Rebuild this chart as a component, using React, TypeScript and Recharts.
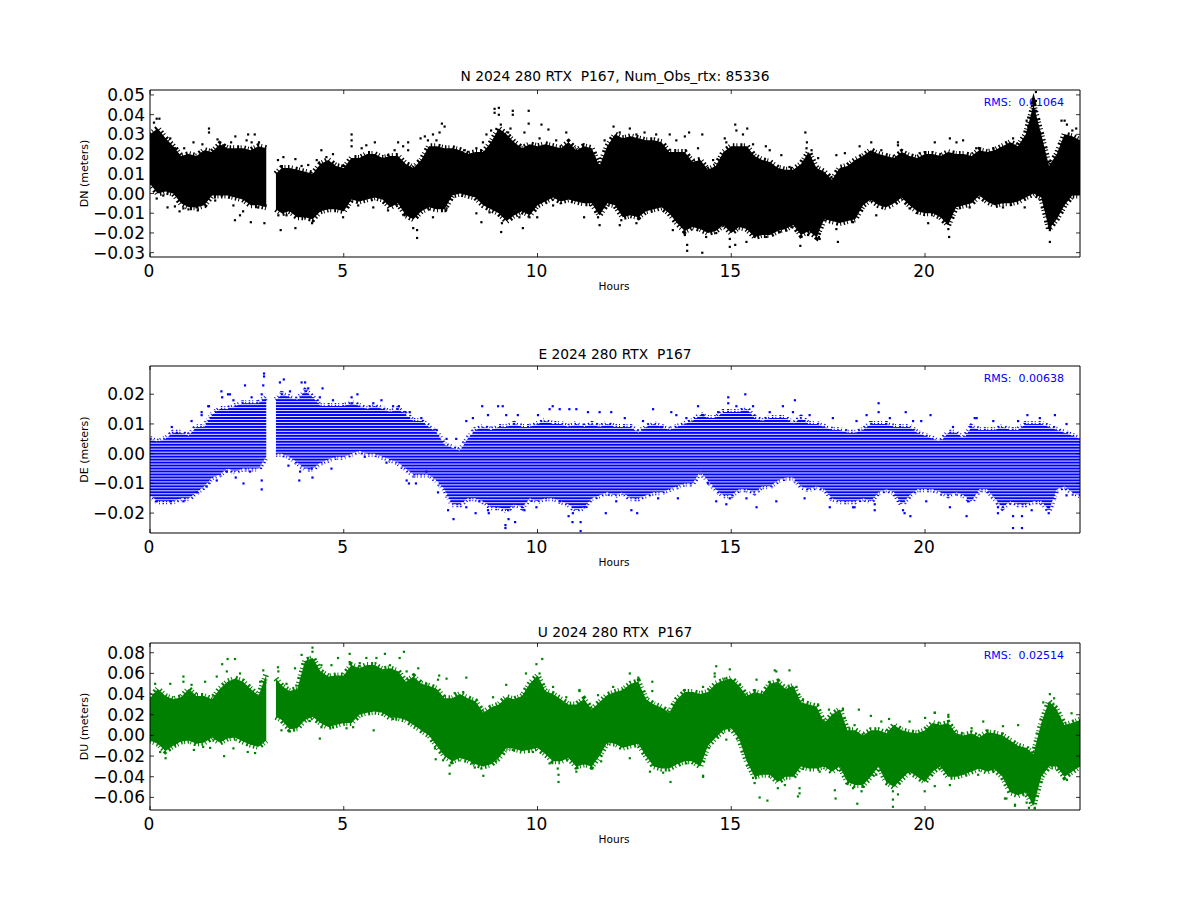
import React from 'react';
import { ComposedChart, Area, Scatter, XAxis, YAxis, ReferenceLine } from 'recharts';

const hours = [
  0, 0.2, 0.4, 0.6, 0.8, 1, 1.2, 1.4, 1.6, 1.8, 2, 2.2, 2.4, 2.6, 2.8, 3,
  3.1,
  3.25, 3.4, 3.6, 3.8, 4, 4.2, 4.4, 4.6, 4.8, 5,
  5.2, 5.4, 5.6, 5.8, 6, 6.2, 6.4, 6.6, 6.8, 7,
  7.2, 7.4, 7.6, 7.8, 8, 8.2, 8.4, 8.6, 8.8, 9,
  9.2, 9.4, 9.6, 9.8, 10, 10.2, 10.4, 10.6, 10.8, 11,
  11.2, 11.4, 11.6, 11.8, 12, 12.2, 12.4, 12.6, 12.8, 13,
  13.2, 13.4, 13.6, 13.8, 14, 14.2, 14.4, 14.6, 14.8, 15,
  15.2, 15.4, 15.6, 15.8, 16, 16.2, 16.4, 16.6, 16.8, 17,
  17.2, 17.4, 17.6, 17.8, 18, 18.2, 18.4, 18.6, 18.8, 19,
  19.2, 19.4, 19.6, 19.8, 20, 20.2, 20.4, 20.6, 20.8, 21,
  21.2, 21.4, 21.6, 21.8, 22, 22.2, 22.4, 22.6, 22.8, 23,
  23.2, 23.4, 23.6, 23.8, 24,
];

const nLow = [
  0.005, 0.0, 0.001, 0.0, -0.005, -0.007, -0.007, -0.006, -0.001, -0.001, -0.001, -0.002, -0.003, -0.006, -0.006, -0.007,
  null,
  -0.008, -0.01, -0.009, -0.012, -0.012, -0.013, -0.009, -0.008, -0.008, -0.009,
  -0.003, -0.004, -0.003, -0.002, -0.003, -0.007, -0.005, -0.011, -0.013, -0.009,
  -0.007, -0.008, -0.008, -0.001, 0.0, -0.001, -0.002, -0.006, -0.008, -0.01,
  -0.014, -0.011, -0.009, -0.011, -0.006, -0.004, -0.002, -0.004, -0.003, -0.004,
  -0.005, -0.005, -0.011, -0.005, -0.006, -0.012, -0.011, -0.012, -0.009, -0.008,
  -0.007, -0.01, -0.015, -0.019, -0.017, -0.018, -0.02, -0.019, -0.016, -0.02,
  -0.017, -0.018, -0.022, -0.021, -0.021, -0.019, -0.018, -0.016, -0.021, -0.019,
  -0.022, -0.013, -0.014, -0.015, -0.014, -0.013, -0.006, -0.003, -0.006, -0.007,
  -0.005, -0.002, -0.006, -0.009, -0.01, -0.01, -0.012, -0.016, -0.007, -0.006,
  -0.005, -0.001, -0.004, -0.006, -0.005, -0.005, -0.004, -0.002, 0.0, -0.002,
  -0.018, -0.013, -0.006, -0.001, -0.001,
];
const nHigh = [
  0.03, 0.033, 0.028, 0.024, 0.019, 0.02, 0.019, 0.022, 0.021, 0.025, 0.023, 0.023, 0.023, 0.022, 0.024, 0.023,
  null,
  0.01, 0.013, 0.013, 0.012, 0.011, 0.01, 0.015, 0.017, 0.014, 0.013,
  0.018, 0.018, 0.02, 0.02, 0.018, 0.019, 0.019, 0.015, 0.013, 0.017,
  0.024, 0.024, 0.023, 0.023, 0.022, 0.02, 0.021, 0.021, 0.026, 0.033,
  0.03, 0.026, 0.023, 0.025, 0.024, 0.025, 0.024, 0.023, 0.026, 0.022,
  0.024, 0.023, 0.014, 0.024, 0.03, 0.028, 0.029, 0.028, 0.027, 0.027,
  0.026, 0.021, 0.021, 0.021, 0.016, 0.017, 0.012, 0.014, 0.021, 0.024,
  0.024, 0.024, 0.019, 0.017, 0.016, 0.013, 0.012, 0.012, 0.015, 0.021,
  0.013, 0.011, 0.007, 0.013, 0.014, 0.017, 0.019, 0.022, 0.02, 0.019,
  0.018, 0.021, 0.019, 0.018, 0.02, 0.02, 0.019, 0.021, 0.02, 0.02,
  0.019, 0.022, 0.021, 0.022, 0.024, 0.026, 0.024, 0.03, 0.045, 0.03,
  0.014, 0.02, 0.03, 0.029, 0.027,
];
const nOutH = [0.17, 0.24, 0.1, 1.52, 1.52, 2.2, 2.53, 2.7, 2.62, 0.45, 0.76, 0.99, 1.23, 2.19, 2.32, 2.6, 2.95, 3.37, 3.75, 4.18, 3.3, 3.44, 3.75, 4.42, 4.72, 5.2, 5.2, 5.2, 5.8, 6.4, 6.66, 6.66, 6.89, 6.89, 6.79, 6.98, 7.09, 7.3, 7.53, 7.6, 7.47, 8.89, 9, 8.89, 9, 9.36, 9.36, 9.77, 9.77, 10.1, 10.28, 9.06, 9.62, 9.99, 8.55, 9.08, 8.68, 8.8, 9.05, 9.3, 10.74, 11.96, 12.38, 12.76, 13.41, 13.91, 14.25, 15.1, 15.41, 15.13, 14.83, 15.3, 16.91, 16.95, 16.94, 17.07, 15.89, 13.86, 13.86, 14.25, 14.96, 14.96, 15.1, 15.39, 16.78, 17.75, 17.26, 20.62, 23.22, 23.22, 22.62, 22.79, 22.86, 22.86, 22.86, 23.52, 23.6, 23.8, 20.98, 20.64, 19.3, 18.61, 11.2, 11.6, 12.12, 12.55, 20.08];
const nOutV = [0.038, 0.038, 0.036, 0.033, 0.031, 0.029, 0.03, 0.03, 0.026, -0.007, -0.009, -0.008, -0.0085, -0.0135, -0.011, -0.0145, -0.015, -0.0185, -0.0175, -0.015, 0.017, 0.0185, 0.0175, 0.022, 0.02, 0.03, 0.027, 0.024, 0.026, 0.026, 0.026, 0.022, -0.0225, -0.0185, -0.0175, 0.028, 0.029, 0.03, 0.0355, 0.034, 0.031, 0.043, 0.0435, 0.041, 0.04, 0.042, 0.04, 0.042, 0.0355, 0.035, 0.0325, -0.0195, -0.0175, -0.012, -0.0145, -0.015, 0.03, 0.032, 0.035, 0.033, 0.031, 0.034, 0.033, 0.031, 0.03, 0.031, 0.03, 0.035, 0.033, 0.032, 0.028, 0.03, 0.031, 0.026, 0.023, 0.022, 0.024, -0.029, -0.026, -0.03, -0.023, -0.027, -0.026, -0.0245, -0.0265, -0.0245, -0.022, -0.022, -0.0245, -0.0185, 0.037, 0.04, 0.0515, 0.047, 0.042, 0.037, 0.037, 0.032, 0.027, 0.028, 0.026, 0.026, -0.012, -0.016, -0.016, -0.015, -0.015];
const nEdgeH = [0.52, 0.64, 0.88, 1.12, 1.35, 1.74, 1.89, 2.09, 2.49, 2.81, 3.91, 4.08, 4.3, 4.55, 4.98, 5.46, 5.58, 6.14, 6.31, 6.53, 7.17, 7.39, 7.9, 8.12, 8.42, 8.59, 9.24, 9.66, 10.05, 10.48,
  0.17, 0.34, 0.64, 0.86, 1.2, 1.68, 1.85, 2.15, 2.4, 2.79, 3.31, 3.52, 3.99, 4.55, 4.98, 5.37, 5.76, 6.14, 6.57, 7.3, 7.65, 8.42, 8.76, 9.53, 9.79, 10.4,
  11.73, 12.12, 12.55, 13.06, 13.58, 13.8, 14.14, 14.53, 14.87, 15.56, 15.99, 16.29, 16.5, 17.24, 17.71, 17.93, 18.31, 18.87, 19.3, 19.86, 20.25, 20.81, 21.32, 21.76, 22.27, 22.66, 22.96, 23.66, 23.9,
  11.56, 12.16, 12.59, 13.49, 13.8, 14.35, 14.61, 15.6, 15.9, 16.25, 16.55, 16.98, 17.28, 17.71, 18.14, 18.74, 19.6, 20.6, 21.15, 22.01, 22.57, 23.22, 23.48];
const nEdgeV = [0.028, 0.023, 0.023, 0.026, 0.025, 0.0275, 0.0245, 0.026, 0.027, 0.026, 0.014, 0.0145, 0.017, 0.0185, 0.014, 0.023, 0.0245, 0.0195, 0.022, 0.024, 0.027, 0.027, 0.022, 0.022, 0.023, 0.026, 0.031, 0.031, 0.028, 0.027,
  -0.0025, -0.001, -0.0065, -0.0075, -0.007, -0.0035, -0.001, -0.006, -0.009, -0.007, -0.011, -0.011, -0.012, -0.0075, -0.012, -0.006, -0.007, -0.0085, -0.011, -0.012, -0.0075, -0.01, -0.0095, -0.012, -0.012, -0.006,
  0.027, 0.031, 0.03, 0.03, 0.027, 0.029, 0.023, 0.017, 0.026, 0.025, 0.022, 0.0195, 0.0135, 0.018, 0.0195, 0.0205, 0.024, 0.022, 0.0245, 0.0205, 0.026, 0.026, 0.023, 0.023, 0.028, 0.034, 0.031, 0.035, 0.033,
  -0.012, -0.0135, -0.0125, -0.0185, -0.021, -0.022, -0.02, -0.022, -0.022, -0.0195, -0.017, -0.021, -0.023, -0.018, -0.0145, -0.011, -0.0075, -0.018, -0.007, -0.007, -0.007, -0.015, -0.0075];

const eLow = [
  -0.014, -0.016, -0.016, -0.016, -0.015, -0.015, -0.013, -0.011, -0.008, -0.007, -0.005, -0.006, -0.005, -0.005, -0.005, -0.001,
  null,
  0.0, 0.0, -0.001, -0.003, -0.005, -0.005, -0.003, -0.002, -0.001, -0.001,
  0.0, 0.001, 0.0, 0.0, -0.001, -0.002, -0.003, -0.005, -0.007, -0.007,
  -0.007, -0.009, -0.012, -0.017, -0.017, -0.015, -0.015, -0.016, -0.018, -0.018,
  -0.019, -0.017, -0.018, -0.015, -0.016, -0.015, -0.015, -0.016, -0.017, -0.019,
  -0.018, -0.015, -0.014, -0.013, -0.014, -0.013, -0.015, -0.015, -0.014, -0.013,
  -0.013, -0.012, -0.011, -0.01, -0.01, -0.006, -0.009, -0.012, -0.014, -0.014,
  -0.012, -0.012, -0.013, -0.011, -0.011, -0.009, -0.008, -0.008, -0.011, -0.012,
  -0.011, -0.012, -0.015, -0.016, -0.016, -0.016, -0.015, -0.016, -0.013, -0.012,
  -0.013, -0.017, -0.014, -0.012, -0.012, -0.012, -0.013, -0.014, -0.013, -0.014,
  -0.016, -0.012, -0.012, -0.015, -0.018, -0.016, -0.017, -0.017, -0.016, -0.016,
  -0.019, -0.012, -0.011, -0.013, -0.014,
];
const eHigh = [
  0.005, 0.004, 0.005, 0.007, 0.007, 0.006, 0.009, 0.009, 0.013, 0.015, 0.015, 0.016, 0.017, 0.017, 0.017, 0.019,
  null,
  0.018, 0.02, 0.019, 0.018, 0.021, 0.019, 0.016, 0.016, 0.016, 0.016,
  0.017, 0.016, 0.015, 0.016, 0.015, 0.014, 0.015, 0.013, 0.011, 0.011,
  0.009, 0.007, 0.003, 0.002, 0.001, 0.005, 0.008, 0.009, 0.008, 0.009,
  0.009, 0.01, 0.009, 0.009, 0.01, 0.011, 0.01, 0.01, 0.009, 0.01,
  0.009, 0.01, 0.009, 0.01, 0.009, 0.009, 0.009, 0.007, 0.009, 0.01,
  0.009, 0.008, 0.009, 0.01, 0.011, 0.013, 0.012, 0.012, 0.014, 0.014,
  0.014, 0.015, 0.012, 0.011, 0.012, 0.012, 0.012, 0.01, 0.012, 0.01,
  0.01, 0.009, 0.008, 0.008, 0.007, 0.007, 0.008, 0.01, 0.01, 0.01,
  0.009, 0.009, 0.009, 0.007, 0.006, 0.005, 0.004, 0.007, 0.007, 0.005,
  0.009, 0.008, 0.008, 0.008, 0.009, 0.008, 0.008, 0.01, 0.01, 0.01,
  0.009, 0.008, 0.007, 0.006, 0.005,
];
const eOutH = [2.94, 2.94, 2.92, 2.45, 3.45, 3.91, 4, 4.45, 1.84, 2.06, 5.35, 5.2, 5.97, 6.42, 6.59, 8.57, 8.98, 9.1, 10.39, 1.52, 1.33, 2.88, 2.41, 2.21, 2.88, 3.85, 4.19, 6.68, 6.86, 7.83, 9.17, 9.17, 9.42, 9.25, 8.4, 8.74, 10.9, 10.8, 15.36, 14.92, 14.92, 16.64, 18.8, 18.8, 19.5, 20.14, 12.98, 22.64, 21.28, 14.14, 11.11, 11.11, 12.57, 11.76, 22.27, 22.5, 22.5, 21.88, 19.47, 19.62, 21.07, 23.19, 18.7, 15.65, 18.18, 14.87];
const eOutV = [0.027, 0.026, 0.023, 0.023, 0.025, 0.024, 0.024, 0.022, 0.021, 0.02, 0.02, 0.019, 0.018, 0.016, 0.014, 0.016, 0.016, 0.016, 0.016, 0.016, 0.014, -0.012, -0.01, -0.008, -0.009, -0.009, -0.008, -0.01, -0.01, -0.022, -0.025, -0.024, -0.023, -0.022, -0.02, -0.02, -0.023, -0.021, 0.02, 0.019, 0.017, 0.018, 0.017, 0.014, 0.014, 0.013, 0.015, 0.013, 0.012, 0.016, -0.026, -0.023, -0.02, -0.02, -0.025, -0.025, -0.021, -0.02, -0.02, -0.021, -0.021, -0.02, -0.019, -0.018, -0.018, -0.017];
const eEdgeH = [0.56, 0.69, 1.07, 1.33, 1.5, 1.86, 2.01, 2.15, 2.62, 2.88, 3.35, 3.61, 4.08, 4.38, 4.72, 5.2, 5.76, 6.27, 6.7, 7, 7.39, 7.65, 7.9, 8.16, 8.33, 8.72, 9.19, 9.49, 10.01, 10.31, 10.57, 10.82,
  0.17, 0.52, 0.86, 1.2, 1.46, 1.72, 1.98, 2.58, 3.57, 3.87, 4.17, 4.68, 5.54, 6.1, 6.62, 7.13, 7.43, 7.69, 8.16, 8.5, 8.72, 9.24, 9.66, 9.97, 10.57,
  11, 11.3, 11.6, 11.9, 12.25, 12.72, 13.19, 13.45, 13.58, 13.84, 14.27, 14.66, 15.13, 15.56, 15.99, 16.33, 16.59, 17.02, 17.62, 18.23, 18.49, 19.09, 19.69, 19.9, 20.72, 21.33, 21.76, 22.4, 22.96, 23.35, 23.65,
  10.91, 11.21, 12.03, 12.42, 13.11, 13.62, 14.4, 14.61, 14.96, 15.39, 16.16, 16.89, 17.54, 18.14, 18.7, 19.43, 20.03, 20.64, 21.11, 21.88, 22.27, 22.75, 23.19, 23.65];
const eEdgeV = [0.009, 0.007, 0.011, 0.013, 0.016, 0.019, 0.02, 0.018, 0.019, 0.02, 0.024, 0.021, 0.022, 0.019, 0.018, 0.017, 0.017, 0.016, 0.014, 0.012, 0.008, 0.005, 0.005, 0.011, 0.012, 0.013, 0.013, 0.013, 0.013, 0.015, 0.015, 0.015,
  -0.016, -0.016, -0.016, -0.013, -0.011, -0.009, -0.006, -0.006, -0.004, -0.006, -0.005, -0.005, -0.001, -0.003, -0.009, -0.006, -0.013, -0.019, -0.018, -0.016, -0.019, -0.019, -0.019, -0.018, -0.016,
  0.015, 0.014, 0.014, 0.014, 0.012, 0.011, 0.009, 0.014, 0.013, 0.012, 0.013, 0.014, 0.016, 0.016, 0.014, 0.016, 0.014, 0.013, 0.012, 0.011, 0.013, 0.012, 0.011, 0.011, 0.009, 0.012, 0.011, 0.011, 0.012, 0.013, 0.01,
  -0.02, -0.018, -0.016, -0.019, -0.015, -0.015, -0.01, -0.016, -0.015, -0.015, -0.016, -0.015, -0.018, -0.018, -0.017, -0.019, -0.016, -0.018, -0.016, -0.018, -0.021, -0.019, -0.018, -0.014];
const eRowGaps = [-0.0265, -0.0255, -0.0245, -0.0235, -0.0225, -0.0215, -0.0205, -0.0195, -0.0185, -0.0175, -0.0165, -0.0155, -0.0145, -0.0135, -0.0125, -0.0115, -0.0105, -0.0095, -0.0085, -0.0075, -0.0065, -0.0055, -0.0045, -0.0035, -0.0025, -0.0015, -0.0005, 0.0005, 0.0015, 0.0025, 0.0035, 0.0045, 0.0055, 0.0065, 0.0075, 0.0085, 0.0095, 0.0105, 0.0115, 0.0125, 0.0135, 0.0145, 0.0155, 0.0165, 0.0175, 0.0185, 0.0195, 0.0205, 0.0215];

const uLow = [
  -0.005, -0.008, -0.015, -0.01, -0.006, -0.005, -0.008, -0.007, -0.002, -0.007, -0.003, -0.002, -0.006, -0.009, -0.011, -0.005,
  null,
  0.018, 0.015, 0.006, 0.007, 0.015, 0.018, 0.012, 0.008, 0.01, 0.012,
  0.012, 0.02, 0.022, 0.023, 0.022, 0.017, 0.017, 0.015, 0.01, 0.005,
  0.0, -0.01, -0.02, -0.025, -0.022, -0.024, -0.028, -0.03, -0.028, -0.022,
  -0.012, -0.013, -0.015, -0.014, -0.012, -0.018, -0.025, -0.025, -0.022, -0.03,
  -0.028, -0.03, -0.02, -0.007, -0.008, -0.012, -0.01, -0.008, -0.02, -0.03,
  -0.032, -0.032, -0.028, -0.025, -0.025, -0.03, -0.01, -0.002, 0.005, 0.007,
  -0.003, -0.025, -0.04, -0.038, -0.038, -0.045, -0.04, -0.04, -0.03, -0.032,
  -0.032, -0.03, -0.035, -0.03, -0.045, -0.048, -0.048, -0.04, -0.03, -0.045,
  -0.05, -0.042, -0.035, -0.04, -0.045, -0.035, -0.03, -0.04, -0.04, -0.038,
  -0.035, -0.032, -0.035, -0.033, -0.04, -0.055, -0.058, -0.055, -0.068, -0.04,
  -0.03, -0.03, -0.04, -0.035, -0.03,
];
const uHigh = [
  0.036, 0.045, 0.038, 0.035, 0.037, 0.045, 0.038, 0.038, 0.035, 0.045, 0.052, 0.055, 0.052, 0.045, 0.038, 0.059,
  null,
  0.055, 0.048, 0.043, 0.045, 0.072, 0.075, 0.062, 0.057, 0.058, 0.058,
  0.068, 0.065, 0.068, 0.068, 0.064, 0.065, 0.062, 0.052, 0.057, 0.05,
  0.048, 0.045, 0.036, 0.036, 0.04, 0.036, 0.033, 0.022, 0.027, 0.03,
  0.037, 0.035, 0.038, 0.05, 0.058, 0.043, 0.04, 0.035, 0.03, 0.03,
  0.035, 0.025, 0.032, 0.039, 0.042, 0.044, 0.05, 0.052, 0.035, 0.03,
  0.027, 0.022, 0.035, 0.042, 0.042, 0.04, 0.042, 0.05, 0.053, 0.055,
  0.048, 0.038, 0.042, 0.04, 0.05, 0.052, 0.045, 0.048, 0.032, 0.03,
  0.028, 0.012, 0.02, 0.025, 0.005, 0.005, 0.0, 0.005, 0.005, 0.002,
  0.01, 0.005, 0.003, 0.002, 0.005, 0.012, 0.01, 0.012, 0.002, 0.0,
  0.002, -0.002, 0.003, 0.002, 0.0, -0.005, -0.01, -0.012, -0.018, 0.012,
  0.033, 0.025, 0.01, 0.012, 0.015,
];
const uOutH = [2, 2.19, 1.86, 4.19, 4.19, 4.38, 6.06, 6.55, 6.44, 5.15, 4.85, 5.58, 10.12, 9.97, 9.7, 1.91, 0.4, 7.73, 8.6, 10.54, 10.54, 8.38, 7.37, 5.77, 5.24, 4.72, 8.16, 7.65, 7.46, 0.86, 2.92, 3.3, 6.92, 14.61, 14.96, 14.57, 16.12, 16.5, 12.38, 12.6, 12.96, 12.96, 11.08, 23.22, 23.33, 15.73, 15.93, 16.72, 16.76, 17.69, 18.25, 19.17, 19.17, 22.68, 22.83, 22.32, 22.1, 13.43, 14.27, 15.6, 20.25, 20, 20.6, 18.29, 17.52, 17.88, 18.6, 19.07];
const uOutV = [0.074, 0.074, 0.069, 0.085, 0.081, -0.003, 0.079, 0.081, 0.075, 0.079, 0.075, 0.075, 0.074, 0.069, 0.06, -0.02, -0.022, -0.037, -0.039, -0.045, -0.038, -0.031, -0.023, 0.005, 0.008, 0.008, 0.056, 0.055, 0.058, 0.057, 0.063, 0.066, 0.065, 0.067, 0.064, 0.057, 0.063, 0.063, 0.06, 0.056, 0.052, 0.043, 0.044, 0.04, 0.036, -0.06, -0.063, -0.059, -0.056, -0.061, -0.066, -0.069, -0.062, -0.07, -0.07, -0.068, -0.061, -0.045, -0.039, -0.046, 0.022, 0.017, 0.02, 0.025, 0.025, 0.025, 0.019, 0.016];
const uEdgeH = [0.13, 0.52, 0.86, 1.07, 1.42, 1.72, 1.98, 2.32, 2.58, 2.84, 3.31, 3.52, 3.74, 3.91, 4.08, 4.42, 4.68, 5.15, 5.41, 5.84, 6.19, 6.62, 7.13, 7.43, 7.86, 8.08, 8.85, 9.19, 10.05, 10.4, 10.74,
  0.26, 0.64, 1.13, 1.37, 1.55, 1.8, 2.15, 2.52, 2.71, 3.39, 3.61, 4.12, 4.42, 5.07, 6.27, 7.04, 7.35, 7.56, 7.73, 8.33, 8.55, 8.93, 9.36, 9.88, 10.31, 10.52, 11,
  11.08, 11.56, 11.95, 12.2, 12.59, 13.02, 13.41, 13.8, 14.01, 14.27, 14.57, 14.83, 15.22, 15.52, 15.65, 15.99, 16.16, 16.68, 16.85, 17.24, 17.62, 17.88, 18.18, 18.87, 19.22, 19.6, 20.25, 20.6, 21.2, 21.5, 22.01, 22.4, 23.05, 23.31, 23.78,
  11, 11.39, 11.64, 12.38, 12.9, 13.24, 13.84, 14.27, 14.87, 15.56, 16.2, 16.38, 16.76, 17.28, 17.67, 18.14, 18.36, 18.74, 19.17, 19.3, 19.99, 20.25, 20.64, 21.37, 22.06, 22.32, 22.62, 22.83, 23.22, 23.66];
const uEdgeV = [0.05, 0.05, 0.052, 0.049, 0.052, 0.057, 0.062, 0.06, 0.042, 0.052, 0.062, 0.05, 0.065, 0.078, 0.075, 0.068, 0.068, 0.071, 0.07, 0.075, 0.068, 0.062, 0.05, 0.054, 0.041, 0.042, 0.037, 0.049, 0.06, 0.047, 0.037,
  -0.016, -0.009, -0.014, -0.011, -0.012, -0.0045, -0.0125, -0.016, -0.017, 0.005, 0.004, 0.014, 0.008, 0.007, 0.016, 0.005, -0.0125, -0.024, -0.029, -0.027, -0.032, -0.025, -0.014, -0.016, -0.027, -0.032, -0.035,
  0.043, 0.039, 0.047, 0.044, 0.054, 0.025, 0.007, 0.044, 0.041, 0.047, 0.06, 0.055, 0.049, 0.036, 0.054, 0.049, 0.062, 0.047, 0.035, 0.03, 0.02, 0.026, 0.01, 0.0135, 0.009, 0.0135, 0.022, 0.018, 0.007, 0.0135, 0.009, 0.01, 0.032, 0.03, 0.0215,
  -0.028, -0.032, -0.025, -0.022, -0.035, -0.036, -0.027, -0.04, -0.004, -0.041, -0.051, -0.048, -0.051, -0.035, -0.053, -0.051, -0.054, -0.038, -0.054, -0.057, -0.054, -0.049, -0.048, -0.038, -0.061, -0.067, -0.065, -0.071, -0.0235, -0.043];

const xTicks = [0, 5, 10, 15, 20];
const nTicks = [-0.03, -0.02, -0.01, 0, 0.01, 0.02, 0.03, 0.04, 0.05];
const eTicks = [-0.02, -0.01, 0, 0.01, 0.02];
const uTicks = [-0.06, -0.04, -0.02, 0, 0.02, 0.04, 0.06, 0.08];

const FONT = '"DejaVu Sans", sans-serif';
const CHART_H = 270;
const TOP = 40;
const PLOT_H = 167;
const ZERO_MARGIN = { top: 0, right: 0, bottom: 0, left: 0 };

const fmtY = (v: number) => {
  const s = Math.abs(v).toFixed(2);
  return v < -1e-9 ? '\u2212' + s : s;
};

const XTick = (props: any) => {
  const { x, payload } = props;
  return (
    <g>
      <line x1={x} x2={x} y1={TOP + PLOT_H} y2={TOP + PLOT_H - 4} stroke="#000" strokeWidth={0.8} />
      <text x={x - 1} y={TOP + PLOT_H + 20} textAnchor="middle" fontSize={17} fontFamily={FONT} fill="#000">{payload.value}</text>
    </g>
  );
};
const XTickTop = (props: any) => (
  <line x1={props.x} x2={props.x} y1={TOP} y2={TOP + 4} stroke="#000" strokeWidth={0.8} />
);
const YTick = (props: any) => {
  const { y, payload } = props;
  return (
    <g>
      <line x1={150} x2={154} y1={y} y2={y} stroke="#000" strokeWidth={0.8} />
      <text x={145} y={y + 6} textAnchor="end" fontSize={17} fontFamily={FONT} fill="#000">{fmtY(payload.value)}</text>
    </g>
  );
};
const YTickRight = (props: any) => (
  <line x1={1080} x2={1076} y1={props.y} y2={props.y} stroke="#000" strokeWidth={0.8} />
);

const Dot = (color: string) => (props: any) => (
  <rect x={props.cx - 1} y={props.cy - 1} width={2.2} height={2.2} fill={color} />
);

type PanelProps = {
  top: number; title: string; titleGap: number; yLabel: string; rms: string; color: string;
  low: (number | null)[]; high: (number | null)[]; outH: number[]; outV: number[];
  edgeH: number[]; edgeV: number[];
  domain: [number, number]; ticks: number[]; rowGaps?: number[];
};

function Panel({ top, title, titleGap, yLabel, rms, color, low, high, outH, outV, edgeH, edgeV, domain, ticks, rowGaps }: PanelProps) {
  const data = hours.map((h, i) => ({
    h,
    band: low[i] === null ? null : [low[i], high[i]],
  }));
  const outliers = outH.map((h, i) => ({ h, v: outV[i] })).concat(edgeH.map((h, i) => ({ h, v: edgeV[i] })));
  return (
    <div style={{ position: 'absolute', left: 0, top: top - TOP }}>
      <ComposedChart width={1200} height={CHART_H} data={data} margin={ZERO_MARGIN}>
        <XAxis xAxisId="b" dataKey="h" type="number" domain={[0, 24]} ticks={xTicks} allowDataOverflow
          axisLine={{ stroke: '#000', strokeWidth: 1 }} tickLine={false} height={CHART_H - TOP - PLOT_H}
          tick={<XTick />} interval={0}
          label={{ value: 'Hours', position: 'insideTop', offset: 25, dx: -1, fontSize: 10.6, fontFamily: FONT, fill: '#000' }} />
        <XAxis xAxisId="t" dataKey="h" type="number" orientation="top" domain={[0, 24]} ticks={xTicks} allowDataOverflow
          axisLine={{ stroke: '#000', strokeWidth: 1 }} tickLine={false} height={TOP} tick={<XTickTop />} interval={0}
          label={{ value: title, position: 'insideBottom', offset: titleGap, fontSize: 13.8, fontFamily: FONT, fill: '#000' }} />
        <YAxis yAxisId="l" dataKey="v" type="number" domain={domain} ticks={ticks} allowDataOverflow interval={0}
          axisLine={{ stroke: '#000', strokeWidth: 1 }} tickLine={false} width={150} tick={<YTick />}
          label={{ value: yLabel, angle: -90, position: 'insideLeft', offset: 84, fontSize: 11, fontFamily: FONT, fill: '#000', style: { textAnchor: 'middle' } }} />
        <YAxis yAxisId="r" orientation="right" type="number" domain={domain} ticks={ticks} allowDataOverflow interval={0}
          axisLine={{ stroke: '#000', strokeWidth: 1 }} tickLine={false} width={120} tick={<YTickRight />} />
        <Area xAxisId="b" yAxisId="l" dataKey="band" type="linear" stroke={color} strokeWidth={6} strokeDasharray="1.5 2 1 3 2 1.5 1 2.5" fill={color} fillOpacity={1}
          connectNulls={false} dot={false} activeDot={false} isAnimationActive={false} />
        {rowGaps && rowGaps.map((g) => (
          <ReferenceLine key={g} xAxisId="b" yAxisId="l" y={g} stroke="#fff" strokeWidth={0.9} />
        ))}
        <Scatter xAxisId="b" yAxisId="l" data={outliers} shape={Dot(color)} isAnimationActive={false} />
        <text x={1064} y={TOP + 16} textAnchor="end" fontSize={11} fontFamily={FONT} fill="#0000ff" style={{ whiteSpace: 'pre' }}>{rms}</text>
      </ComposedChart>
    </div>
  );
}

export default function App() {
  return (
    <div style={{ position: 'relative', width: 1200, height: 900, margin: -8 }}>
      <Panel top={90} title={"N 2024 280 RTX\u00a0 P167, Num_Obs_rtx: 85336"} titleGap={9.5} yLabel="DN (meters)" rms="RMS:  0.01064" color="#000000"
        low={nLow} high={nHigh} outH={nOutH} outV={nOutV} edgeH={nEdgeH} edgeV={nEdgeV} domain={[-0.0322, 0.0525]} ticks={nTicks} />
      <Panel top={366} title={"E 2024 280 RTX\u00a0 P167"} titleGap={7} yLabel="DE (meters)" rms="RMS:  0.00638" color="#0000ff"
        low={eLow} high={eHigh} outH={eOutH} outV={eOutV} edgeH={eEdgeH} edgeV={eEdgeV} domain={[-0.0267, 0.0295]} ticks={eTicks} rowGaps={eRowGaps} />
      <Panel top={643} title={"U 2024 280 RTX\u00a0 P167"} titleGap={6.5} yLabel="DU (meters)" rms="RMS:  0.02514" color="#008000"
        low={uLow} high={uHigh} outH={uOutH} outV={uOutV} edgeH={uEdgeH} edgeV={uEdgeV} domain={[-0.0722, 0.0894]} ticks={uTicks} />
    </div>
  );
}
